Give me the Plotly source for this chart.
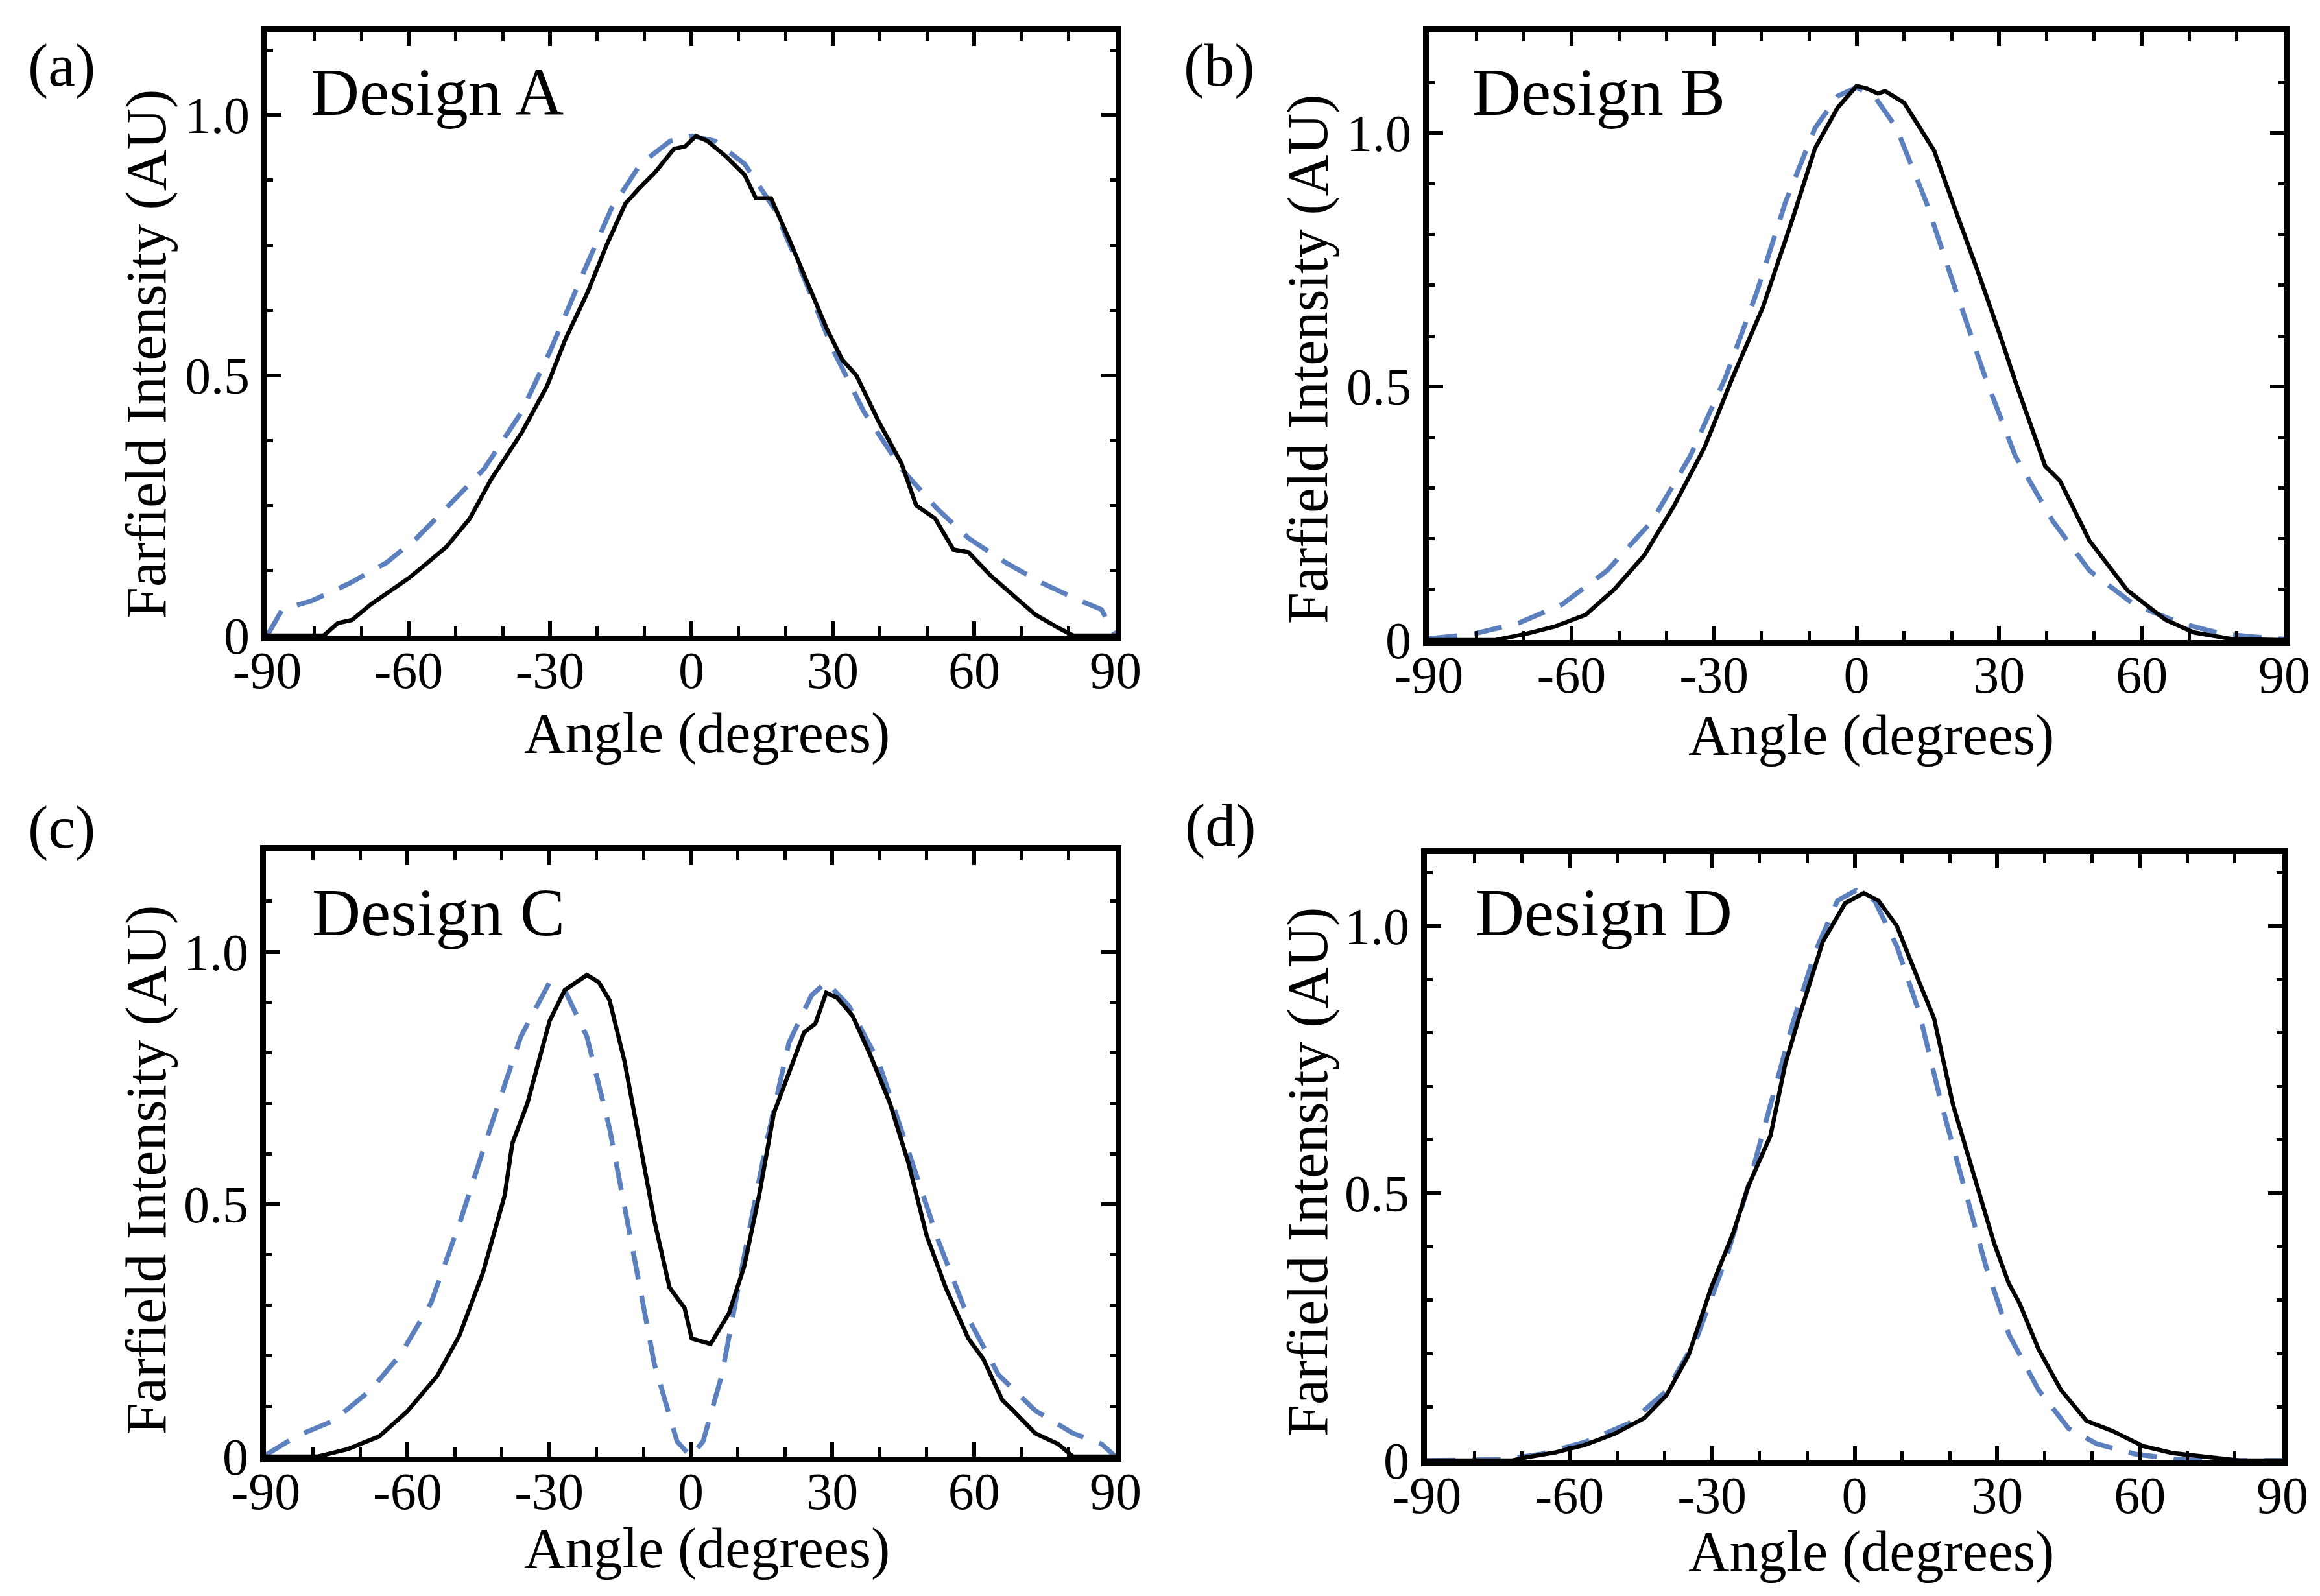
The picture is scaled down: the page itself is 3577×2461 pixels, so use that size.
import plotly.graph_objects as go

# --- values ---
# (a) Design A
angle_a_meas = [-90, -78, -75, -72, -68, -63, -60, -56, -52, -47, -42.5, -36, -30.6, -26.7, -22, -18, -14, -11,
                -7.7, -3.7, -1.3, 1, 3.4, 7.4, 11.3, 13.7, 16.9, 20.8, 25.5, 28.7, 32, 35, 39.8, 44.6, 47.7,
                51.7, 55.6, 58.8, 63.5, 68.3, 73, 77.8, 81, 90]
int_a_meas = [0, 0, 0.024, 0.03, 0.06, 0.09, 0.11, 0.14, 0.17, 0.225, 0.30, 0.39, 0.48, 0.57, 0.66, 0.75, 0.83,
              0.86, 0.89, 0.935, 0.94, 0.96, 0.95, 0.92, 0.885, 0.84, 0.84, 0.76, 0.66, 0.59, 0.53, 0.50, 0.41,
              0.33, 0.25, 0.225, 0.165, 0.16, 0.115, 0.077, 0.04, 0.015, 0, 0]
angle_a_sim = [-90, -86.8, -80.5, -72.6, -64.7, -58.3, -52, -44, -36, -29.8, -23.5, -17, -10.8, -4.5, 0, 5,
               11.3, 17.6, 24, 30, 36.6, 44.6, 52, 58.8, 66.7, 74.6, 82.5, 87, 90]
int_a_sim = [0, 0.05, 0.067, 0.10, 0.14, 0.187, 0.245, 0.32, 0.43, 0.55, 0.685, 0.82, 0.906, 0.95, 0.96, 0.95,
             0.906, 0.82, 0.685, 0.55, 0.43, 0.32, 0.245, 0.187, 0.14, 0.10, 0.067, 0.05, 0]

# (b) Design B
angle_b_meas = [-90, -76, -69.7, -63.4, -57, -51, -44.7, -38.4, -32, -26, -19.7, -13.4, -8.75, -4, 0, 2.2, 4.5,
                6, 10, 16.3, 21, 25.6, 30.3, 33.4, 39.7, 42.8, 49, 57, 65, 71, 79, 90]
int_b_meas = [0, 0, 0.012, 0.027, 0.05, 0.10, 0.167, 0.265, 0.38, 0.52, 0.657, 0.833, 0.97, 1.05, 1.093, 1.088,
              1.078, 1.083, 1.06, 0.966, 0.843, 0.725, 0.598, 0.51, 0.343, 0.314, 0.196, 0.098, 0.04, 0.015,
              0.002, 0]
angle_b_sim = [-90, -80.6, -71, -62, -52.5, -43, -35, -27.5, -21, -15, -8.75, -4, 0, 3.75, 8.4, 14.7, 21, 27,
               33.4, 41.25, 49, 58.4, 68, 77, 88, 90]
int_b_sim = [0.003, 0.012, 0.034, 0.07, 0.137, 0.235, 0.363, 0.52, 0.686, 0.863, 1.01, 1.073, 1.09, 1.073,
             1.01, 0.863, 0.686, 0.52, 0.363, 0.235, 0.137, 0.07, 0.034, 0.012, 0.003, 0.002]

# (c) Design C
angle_c_meas = [-90, -79, -72.6, -66, -60, -53.7, -49, -44, -39.4, -37.8, -34.6, -29.9, -26.7, -22, -19.5,
                -17.2, -14, -10.8, -7.7, -4.5, -1.3, 0.2, 4.2, 8.1, 11.3, 14.5, 17.6, 20.8, 24, 26.4, 28.7, 31,
                34.3, 38.2, 42.2, 46.2, 50, 54, 58.8, 62, 66, 68.3, 73, 77.8, 81, 90]
int_c_meas = [0, 0, 0.015, 0.04, 0.09, 0.16, 0.24, 0.365, 0.518, 0.62, 0.70, 0.863, 0.924, 0.954, 0.94, 0.904,
              0.782, 0.62, 0.467, 0.335, 0.294, 0.234, 0.223, 0.284, 0.376, 0.518, 0.68, 0.76, 0.84, 0.858,
              0.919, 0.909, 0.873, 0.792, 0.70, 0.579, 0.437, 0.335, 0.234, 0.193, 0.112, 0.091, 0.046, 0.025,
              0, 0]
angle_c_sim = [-90, -89.7, -83.6, -75.7, -67.8, -61.4, -55, -48.8, -42.5, -36, -29.9, -26.7, -22, -17.2,
               -12.4, -7.7, -2.9, 0, 2.6, 6.6, 11.3, 16, 20.8, 25.6, 28.7, 33.5, 39.8, 46.2, 52.5, 58.8, 65.2,
               73, 81, 87, 90]
int_c_sim = [0, 0.005, 0.04, 0.071, 0.132, 0.203, 0.305, 0.467, 0.65, 0.832, 0.94, 0.924, 0.832, 0.65, 0.416,
             0.183, 0.03, 0, 0.03, 0.162, 0.396, 0.62, 0.82, 0.914, 0.94, 0.893, 0.782, 0.599, 0.426, 0.274,
             0.162, 0.091, 0.046, 0.025, 0]

# (d) Design D
angle_d_meas = [-90, -72, -69, -63, -56.8, -50.5, -44.3, -39.6, -34.9, -30.2, -25.5, -22.4, -17.7, -14.6,
                -11.4, -6.7, -2, 1.9, 5, 8.9, 13.6, 16.7, 20.7, 24.6, 29.3, 32.4, 34.7, 38.7, 43.4, 48.8, 54.3,
                60.6, 66.8, 74.7, 81, 90]
int_d_meas = [0, 0, 0.006, 0.015, 0.029, 0.05, 0.079, 0.122, 0.198, 0.323, 0.427, 0.513, 0.608, 0.742, 0.838,
              0.971, 1.043, 1.062, 1.048, 1.0, 0.895, 0.828, 0.666, 0.552, 0.408, 0.332, 0.294, 0.208, 0.132,
              0.074, 0.055, 0.027, 0.014, 0.006, 0, 0]
angle_d_sim = [-90, -74, -66, -56.8, -47.4, -39.6, -33.3, -27, -22.4, -17.7, -13, -8.3, -3.6, 0.3, 4.2, 8.9,
               13.6, 18.3, 23, 27.7, 32.4, 38.7, 45, 51, 59, 68, 74.7, 90]
int_d_sim = [0, 0.002, 0.012, 0.034, 0.07, 0.13, 0.227, 0.38, 0.513, 0.666, 0.819, 0.952, 1.048, 1.067, 1.048,
             0.962, 0.838, 0.666, 0.513, 0.361, 0.237, 0.132, 0.06, 0.031, 0.012, 0.002, 0, 0]

panel_tags = ["(a)", "(b)", "(c)", "(d)"]
design_names = ["Design A", "Design B", "Design C", "Design D"]
x_title = "Angle (degrees)"
y_title = "Farfield Intensity (AU)"
y_tops = [1.16, 1.2, 1.2, 1.135]
y_minor_steps = [0.125, 0.1, 0.1, 0.1]
x_tickvals = [-90, -60, -30, 0, 30, 60, 90]
x_ticktext = ["-90", "-60", "-30", "0", "30", "60", "90"]
y_tickvals = [0, 0.5, 1.0]
y_ticktext = ["0", "0.5", "1.0"]

measured = [(angle_a_meas, int_a_meas), (angle_b_meas, int_b_meas),
            (angle_c_meas, int_c_meas), (angle_d_meas, int_d_meas)]
simulated = [(angle_a_sim, int_a_sim), (angle_b_sim, int_b_sim),
             (angle_c_sim, int_c_sim), (angle_d_sim, int_d_sim)]

# the page body has an 8px margin, so the figure is drawn 8px in from the window corner
OFF = 8
W, H = 3577 - 2 * OFF, 2461 - 2 * OFF
FONT = "Liberation Serif, Times New Roman, serif"
BLUE = "#5c80be"

# positions measured on the 3577x2461 reference (window pixels)
boxes = [(412, 1720, 49, 980), (2203, 3522, 49, 987),
         (410, 1720, 1312, 2246), (2200, 3519, 1317, 2252)]  # left, right, top, bottom
tag_pos = [(95, 100), (1880, 100), (95, 1275), (1882, 1272)]
name_pos = [(477, 141), (2268, 141), (479, 1407), (2273, 1407)]
ytitle_pos = [(225, 546), (2016, 554), (225, 1804), (2016, 1807)]
xtitle_pos = [(1090, 1130), (2885, 1133), (1090, 2387), (2885, 2392)]


def px_x(px):
    return (px - OFF) / W


def px_y(py):
    return 1 - (py - OFF) / H


def note(text, pos, size, **kw):
    return dict(text=text, xref="paper", yref="paper", x=px_x(pos[0]), y=px_y(pos[1]), showarrow=False,
                font=dict(family=FONT, size=size, color="black"), **kw)


fig = go.Figure()
layout = dict(width=W, height=H, margin=dict(l=0, r=0, t=0, b=0, pad=0, autoexpand=False),
              paper_bgcolor="white", plot_bgcolor="white", showlegend=False,
              font=dict(family=FONT, color="black"), annotations=[])

for i in range(4):
    n = "" if i == 0 else str(i + 1)
    xa, ya = "x" + n, "y" + n
    sx, sy = simulated[i]
    mx, my = measured[i]
    fig.add_trace(go.Scatter(x=sx, y=sy, mode="lines", xaxis=xa, yaxis=ya, cliponaxis=True,
                             line=dict(color=BLUE, width=7.5, dash="44px,26px")))
    fig.add_trace(go.Scatter(x=mx, y=my, mode="lines", xaxis=xa, yaxis=ya, cliponaxis=True,
                             line=dict(color="black", width=6.5)))

    l, r, t, b = boxes[i]
    common = dict(showline=True, linecolor="black", linewidth=9, mirror="ticks", automargin=False,
                  ticks="inside", ticklen=22, tickwidth=6, tickcolor="black",
                  showgrid=False, zeroline=False, tickfont=dict(family=FONT, size=80))
    layout["xaxis" + n] = dict(common, domain=[px_x(l), px_x(r)], anchor=ya, range=[-90, 90],
                               tickvals=x_tickvals, ticktext=x_ticktext, ticklabelstandoff=-24,
                               minor=dict(dtick=10, tick0=0, ticks="inside", ticklen=14, tickwidth=5,
                                          tickcolor="black", showgrid=False))
    layout["yaxis" + n] = dict(common, domain=[px_y(b), px_y(t)], anchor=xa, range=[0, y_tops[i]],
                               tickvals=y_tickvals, ticktext=y_ticktext, ticklabelstandoff=2,
                               minor=dict(dtick=y_minor_steps[i], tick0=0, ticks="inside", ticklen=9,
                                          tickwidth=5, tickcolor="black", showgrid=False))

    layout["annotations"] += [
        note(panel_tags[i], tag_pos[i], 94, xanchor="center", yanchor="middle"),
        note(design_names[i], name_pos[i], 104, xanchor="left", yanchor="middle"),
        note(y_title, ytitle_pos[i], 88, xanchor="center", yanchor="middle", textangle=-90),
        note(x_title, xtitle_pos[i], 88, xanchor="center", yanchor="middle"),
    ]

fig.update_layout(**layout)
fig.write_html("out.html")
